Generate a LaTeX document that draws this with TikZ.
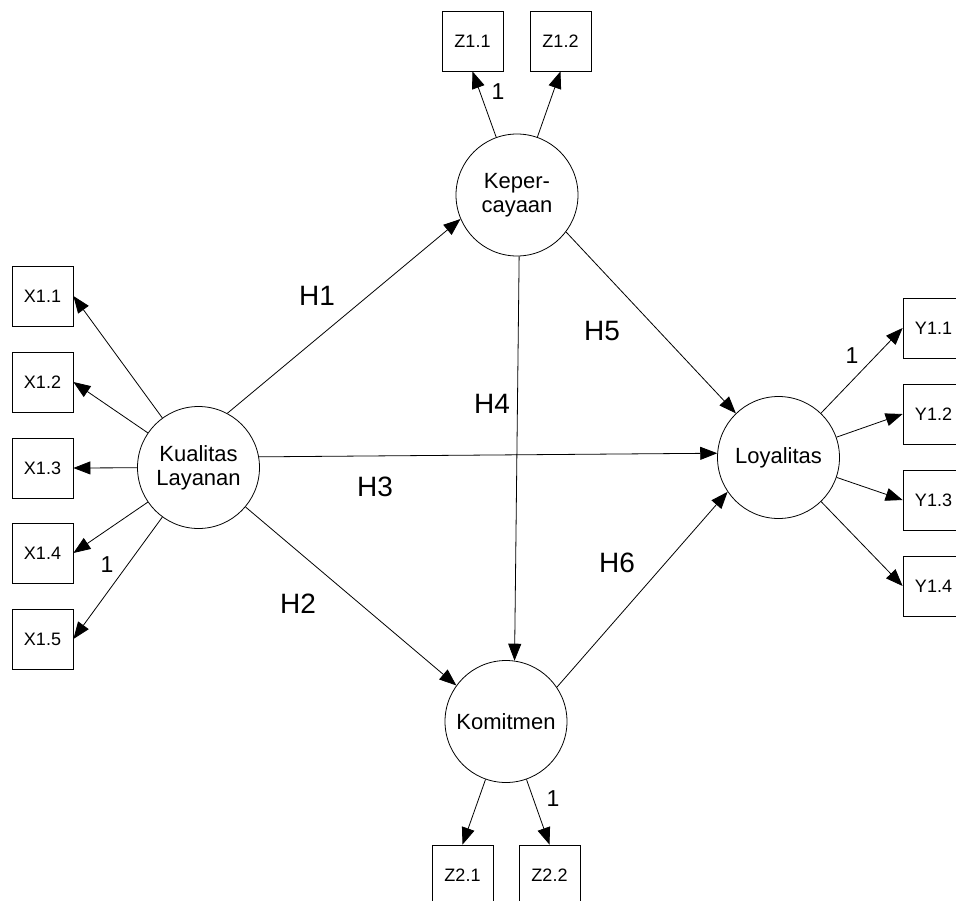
\documentclass[tikz,border=0pt]{standalone}
\usepackage{fontspec}
\setmainfont{Liberation Sans}
\usetikzlibrary{arrows.meta}

\begin{document}
\begin{tikzpicture}[x=1pt,y=-1pt,line width=0.8pt,
	>={Triangle[length=17pt,width=13pt]},
	latent/.style={circle,draw,minimum size=122pt,inner sep=0pt,align=center,
		font=\fontsize{22}{24}\selectfont},
	indik/.style={draw,minimum width=61pt,minimum height=60pt,inner sep=0pt,
		font=\fontsize{18}{20}\selectfont},
	hlabel/.style={font=\fontsize{28}{30}\selectfont},
	eins/.style={font=\fontsize{23}{25}\selectfont}]

\useasboundingbox (0,0) rectangle (956,900);

% Latente Variablen
\node[latent] (kl) at (198.5,467.5) {Kualitas\\Layanan};
\node[latent] (kep) at (517,195) {Keper-\\cayaan};
\node[latent] (loy) at (778.5,457.5) {Loyalitas};
\node[latent] (kom) at (506,721.5) {Komitmen};

% Indikatoren
\foreach \i/\y in {1/296,2/382,3/468,4/553,5/639}
	\node[indik] (x\i) at (42.5,\y) {X1.\i};
\foreach \i/\y in {1/328,2/414,3/500,4/586}
	\node[indik] (y\i) at (933.5,\y) {Y1.\i};
\node[indik] (z11) at (472.5,41) {Z1.1};
\node[indik] (z12) at (560.5,41) {Z1.2};
\node[indik] (z21) at (462.5,875) {Z2.1};
\node[indik] (z22) at (549.5,875) {Z2.2};

% Messmodell
\foreach \i in {1,...,5}
	\draw[->] (kl) -- (x\i.east);
\foreach \i in {1,...,4}
	\draw[->] (loy) -- (y\i.west);
\draw[->] (kep) -- (z11.south);
\draw[->] (kep) -- (z12.south);
\draw[->] (kom) -- (z21.north);
\draw[->] (kom) -- (z22.north);

% Strukturmodell
\draw[->] (kl.62) -- (kep.203);
\draw[->] (kl.-40) -- (kom.144);
\draw[->] (kl.10) -- (loy.176);
\draw[->] (kep.-88) -- (kom.82);
\draw[->] (kep.-37) -- (loy.134);
\draw[->] (kom.34) -- (loy.214);

% Hypothesen
\node[hlabel] (h1) at (317,296) {H1};
\node[hlabel] (h2) at (298,604) {H2};
\node[hlabel] (h3) at (375,487) {H3};
\node[hlabel] (h4) at (492,404) {H4};
\node[hlabel] (h5) at (602,331) {H5};
\node[hlabel] (h6) at (617,563) {H6};

% feste Ladungen
\node[eins] (e1) at (498,92) {1};
\node[eins] (e2) at (107,565) {1};
\node[eins] (e3) at (852,356) {1};
\node[eins] (e4) at (553,799) {1};

\end{tikzpicture}
\end{document}
